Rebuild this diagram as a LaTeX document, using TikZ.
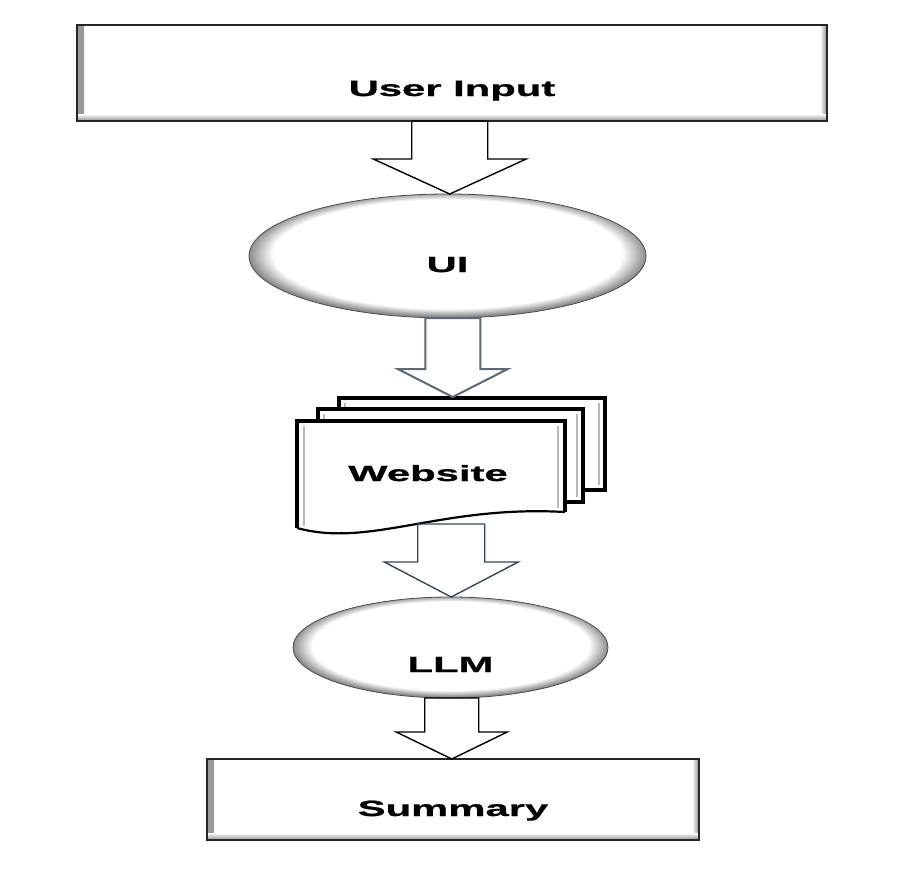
\documentclass[tikz,border=0pt]{standalone}
\usepackage{fontspec}
\newfontfamily\labelfont{Liberation Sans}[FakeStretch=1.9, BoldFeatures={FakeBold=1}]
\usetikzlibrary{shapes.geometric,calc}

\definecolor{slate}{RGB}{90,106,118}
\definecolor{darkslate}{RGB}{52,72,88}
\pgfdeclareradialshading{rimshade}{\pgfpoint{0bp}{1.5bp}}{color(0bp)=(white); color(22bp)=(white); color(25bp)=(black!45); color(50bp)=(black!45)}

\tikzset{
  flowtext/.style={font=\labelfont\bfseries\fontsize{22}{26}\selectfont, text depth=0pt, inner sep=3pt, outer sep=0pt},
  bevelbox/.style={flowtext, draw=black!85, line width=1.3pt, fill=white,
    path picture={
      \shade[left color=black!40, right color=white] (path picture bounding box.south west) rectangle ($(path picture bounding box.north west)+(7,0)$);
      \shade[left color=white, right color=black!45] ($(path picture bounding box.south east)+(-7,0)$) rectangle (path picture bounding box.north east);
      \shade[top color=white, bottom color=black!45] (path picture bounding box.south west) rectangle ($(path picture bounding box.south east)+(0,-7)$);
    }},
  oval/.style={flowtext, ellipse, draw=black!70, line width=0.8pt, shade, shading=rimshade},
  page/.style={draw=black, line width=3.6pt, fill=white, line join=miter},
  pageinner/.style={draw=gray!55, line width=1.2pt},
  fatarrow/.style n args={3}{line width=1.4pt, line join=miter, to path={
    let \p1=(\tikztostart), \p2=(\tikztotarget), \n1={(\x1+\x2)/2} in
    ({\n1-#1},\y1) -- ({\n1-#1},{\y2+#3pt}) -- ({\n1-#2},{\y2+#3pt}) -- (\n1,\y2)
    -- ({\n1+#2},{\y2+#3pt}) -- ({\n1+#1},{\y2+#3pt}) -- ({\n1+#1},\y1) -- cycle}}
}

\begin{document}
\begin{tikzpicture}[x=1pt,y=-1pt]
\useasboundingbox (0,0) rectangle (900,891);

% Input and output boxes
\node[bevelbox, minimum width=750pt, minimum height=96pt, text height=46pt] (inp) at (452,73) {User Input};
\node[bevelbox, minimum width=492pt, minimum height=81pt, text height=33pt] (sum) at (453,799.5) {Summary};

% Ovals
\node[oval, minimum width=397pt, minimum height=124pt, text height=32pt] (ui) at (447.5,256) {UI};
\node[oval, minimum width=315pt, minimum height=101pt, text height=49pt] (llm) at (450.5,647.5) {LLM};

% Stack of pages, back to front
\foreach \l/\t/\r/\b in {339/398/605/490, 318/409/583/502} {
  \draw[page] (\l,\t) rectangle (\r,\b);
  \draw[pageinner] ({\l+6},{\t+5}) -- ({\l+6},{\b-5}) ({\r-6},{\t+5}) -- ({\r-6},{\b-5});
}
\fill[white] (297,421) -- (565,421) -- (565,512) .. controls (440,505) and (370,548) .. (297,528) -- cycle;
\draw[pageinner] (304,426) -- (304,526) (558,426) -- (558,508);
\draw[page, fill=none] (297,528) -- (297,421) -- (565,421) -- (565,512);
\draw[line width=2.2pt] (565,512) .. controls (440,505) and (370,548) .. (297,528);
\node[flowtext, text height=16pt] (web) at (428,473) {Website};
\coordinate (webtop) at (458,397);
\coordinate (webout) at (452,524);

% Block arrows
\draw[fatarrow={38}{76.5}{35}] (inp.south) to (ui.north);
\draw[fatarrow={27.5}{55}{28}, slate, line width=2pt] (ui.south) to (webtop);
\draw[fatarrow={33.5}{67}{35}, darkslate] (webout) to (llm.north);
\draw[fatarrow={27}{55.5}{27}] (llm.south) to (sum.north);
\end{tikzpicture}
\end{document}
